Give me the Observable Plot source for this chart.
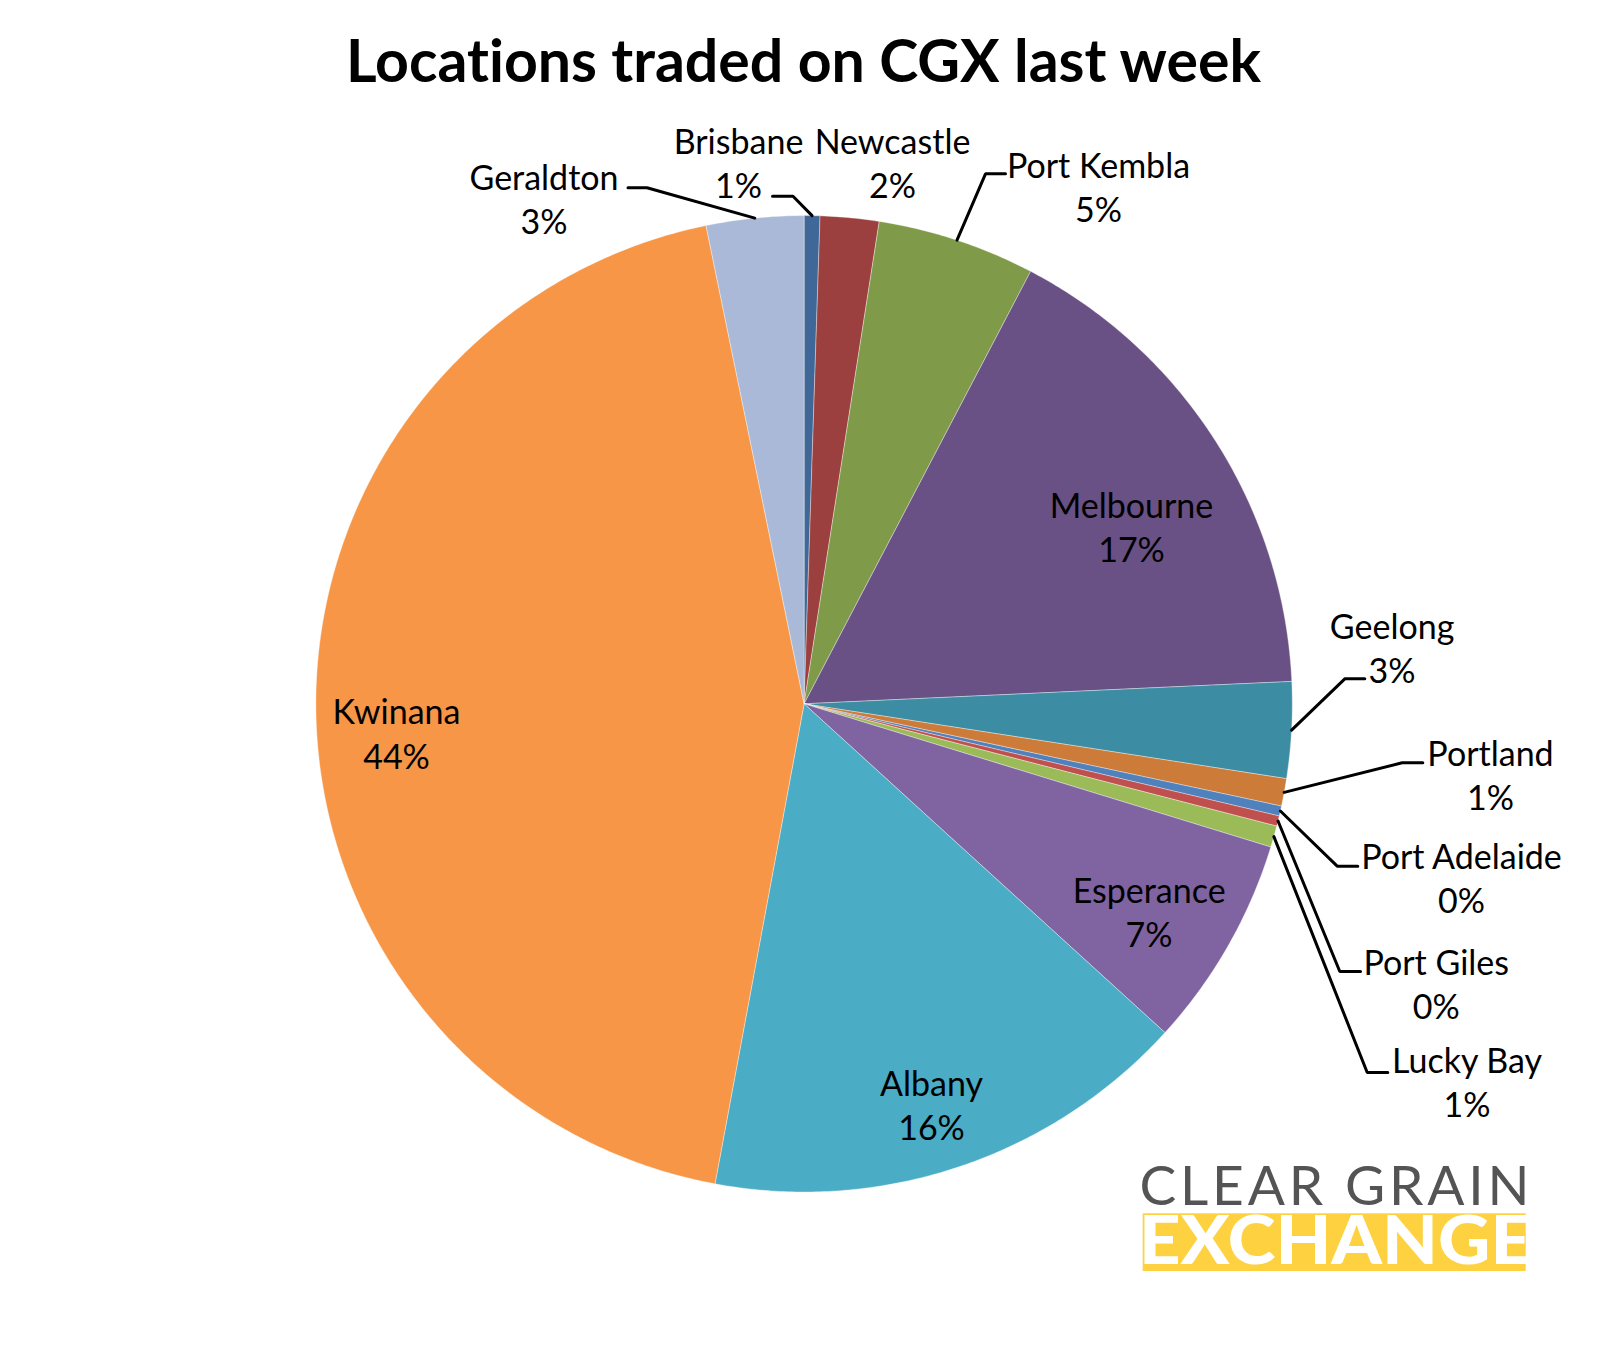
<!DOCTYPE html>
<html>
<head>
<meta charset="utf-8">
<script src="https://cdn.jsdelivr.net/npm/d3@7"></script>
<script src="https://cdn.jsdelivr.net/npm/@observablehq/plot@0.6"></script>
<style>
html,body{margin:0;padding:0;background:#fff}
svg text{font-variant-ligatures:none}
</style>
</head>
<body>
<div id="chart"></div>
<script>
const locations = ["Brisbane","Newcastle","Port Kembla","Melbourne","Geelong","Portland","Port Adelaide","Port Giles","Lucky Bay","Esperance","Albany","Kwinana","Geraldton"];
const shares = [0.52,1.94,5.22,16.59,3.18,0.91,0.33,0.34,0.71,7.02,16.16,43.86,3.22];
const percentLabels = ["1%","2%","5%","17%","3%","1%","0%","0%","1%","7%","16%","44%","3%"];
const colours = ["#3F6797","#9B403E","#7F9A48","#695185","#3C8DA3","#CC7B38","#4F81BD","#C0504D","#9BBB59","#8064A2","#4BACC6","#F79646","#AAB9D7"];

// layout, kept apart from the data (page units)
const W = 1608, H = 1351, CX = 803.6, CY = 703.3, R = 488.2;
const labelAt = {
  "Geraldton":[543.5,197.5],"Brisbane":[738,161],"Newcastle":[892,161],"Port Kembla":[1098,185.5],
  "Melbourne":[1131,525],"Geelong":[1391.6,646.5],"Portland":[1490,773],"Port Adelaide":[1461,876],
  "Port Giles":[1435.7,982.5],"Lucky Bay":[1466.5,1080],"Esperance":[1148.6,910],"Albany":[931,1103],"Kwinana":[396,731.7]
};
const elbows = {
  "Brisbane":[[792.5,195.7],[772,195.7]],
  "Port Kembla":[[985,173.3],[1005,173.3]],
  "Geelong":[[1344.3,678.3],[1364.3,678.3]],
  "Portland":[[1401.7,762.3],[1422.3,762.3]],
  "Port Adelaide":[[1336.7,865.7],[1357.3,865.7]],
  "Port Giles":[[1339.3,971],[1360,971]],
  "Lucky Bay":[[1366.7,1072],[1387.3,1072]],
  "Geraldton":[[646.5,187.3],[627.5,187.3]]
};

const pie = d3.pie().sort(null).value(d => d)(shares);
const polar = (a, r) => [CX + r * Math.sin(a), CY - r * Math.cos(a)];

const slicePoints = pie.flatMap((s, i) => {
  const pts = [{name: locations[i], p: [CX, CY]}];
  const n = Math.max(2, Math.ceil((s.endAngle - s.startAngle) * 120));
  for (let k = 0; k <= n; ++k) {
    pts.push({name: locations[i], p: polar(s.startAngle + (s.endAngle - s.startAngle) * k / n, R)});
  }
  pts.push({name: locations[i], p: [CX, CY]});
  return pts;
});

const leaderPoints = pie.flatMap((s, i) => {
  const e = elbows[locations[i]];
  if (!e) return [];
  return [polar((s.startAngle + s.endAngle) / 2, R), ...e].map(p => ({name: locations[i], p}));
});

const labels = locations.map((name, i) => ({text: name + "\n" + percentLabels[i], p: labelAt[name]}));

const labelSize = 34;
const svg = Plot.plot({
  width: W, height: H, margin: 0,
  style: {fontFamily: "Lato, sans-serif", background: "#fff"},
  x: {domain: [0, W], range: [0, W], axis: null},
  y: {domain: [0, H], range: [0, H], axis: null},
  color: {domain: locations, range: colours},
  marks: [
    Plot.line(slicePoints, {x: d => d.p[0], y: d => d.p[1], z: "name", fill: "name", stroke: "#fff", strokeWidth: 0.6, strokeOpacity: 0.6, curve: "linear"}),
    Plot.line(leaderPoints, {x: d => d.p[0], y: d => d.p[1], z: "name", stroke: "#000", strokeWidth: 3, curve: "linear", strokeLinejoin: "miter"}),
    Plot.text(labels, {x: d => d.p[0], y: d => d.p[1], text: "text", fontSize: labelSize, lineHeight: 44.3 / labelSize, fill: "#000", textAnchor: "middle", lineAnchor: "middle"}),
    Plot.text(["Locations traded on CGX last week"], {x: [803], y: [63], text: d => d, fontSize: 59, fontWeight: 700, fill: "#000", lineAnchor: "middle"}),
    Plot.rect([0], {x1: [1142.7], x2: [1525.7], y1: [1213.3], y2: [1271], fill: "#FDD13F"}),
    Plot.text(["CLEAR GRAIN"], {x: [1139], y: [1187], text: d => d, fontSize: 55, fontWeight: 400, fill: "#545454", textAnchor: "start", lineAnchor: "middle"}),
    Plot.text(["EXCHANGE"], {x: [1138.5], y: [1242], text: d => d, fontSize: 66, fontWeight: 900, fill: "#fff", textAnchor: "start", lineAnchor: "middle"})
  ]
});
d3.select(svg).selectAll("text").each(function() {
  const t = this.textContent;
  if (t === "CLEAR GRAIN") this.setAttribute("textLength", 390);
  if (t === "EXCHANGE") {
    this.setAttribute("textLength", 393);
    this.setAttribute("lengthAdjust", "spacingAndGlyphs");
  }
});
document.getElementById("chart").append(svg);
</script>
</body>
</html>
